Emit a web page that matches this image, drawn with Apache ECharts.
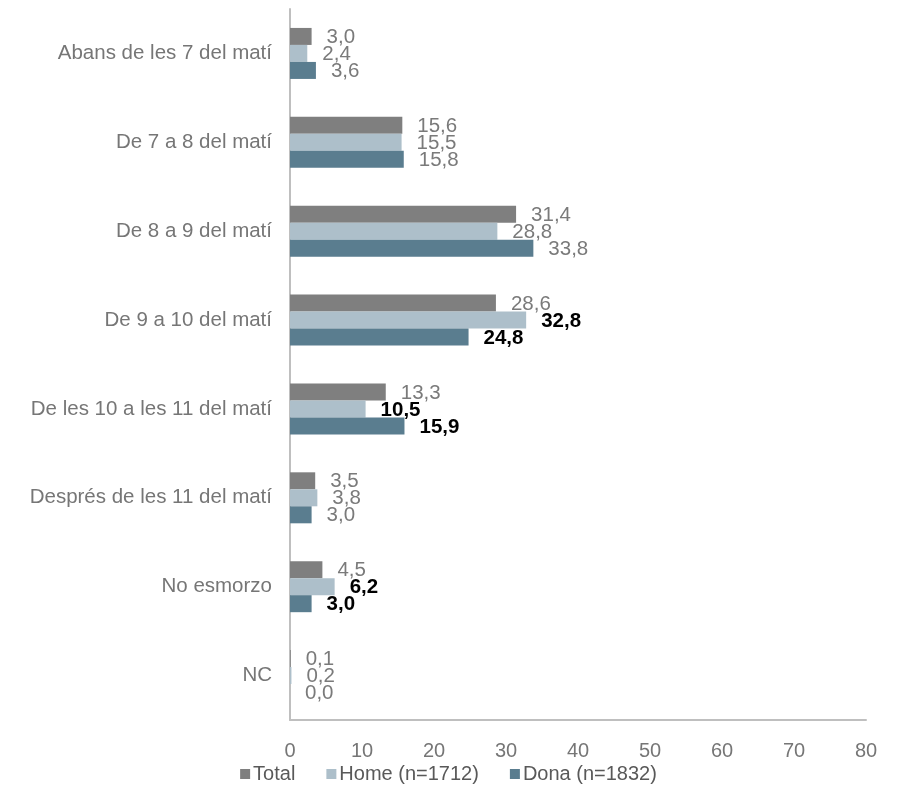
<!DOCTYPE html>
<html><head><meta charset="utf-8">
<script src="https://cdn.jsdelivr.net/npm/echarts@6/dist/echarts.min.js"></script>
<style>html,body{margin:0;padding:0;background:#fff}#c{width:897px;height:812px}</style>
</head><body><div id="c"></div>
<script>
const categories = ["Abans de les 7 del matí","De 7 a 8 del matí","De 8 a 9 del matí","De 9 a 10 del matí","De les 10 a les 11 del matí","Després de les 11 del matí","No esmorzo","NC"];
const seriesNames = ["Total","Home (n=1712)","Dona (n=1832)"];
const totalValues = [3.0,15.6,31.4,28.6,13.3,3.5,4.5,0.1];
const homeValues  = [2.4,15.5,28.8,32.8,10.5,3.8,6.2,0.2];
const donaValues  = [3.6,15.8,33.8,24.8,15.9,3.0,3.0,0.0];
// significant (bold) flags
const homeBold = [false,false,false,true,true,false,true,false];
const donaBold = [false,false,false,true,true,false,true,false];
const totalBold = [false,false,false,false,false,false,false,false];
const colors = ["#7f7f7f","#adbfca","#5a7d8f"];

const FONT = 'Liberation Sans, Arial, sans-serif';
const fmt = v => v.toFixed(1).replace('.', ',');
function mk(vals, bold){
  return vals.map((v,i)=>({value:v, label: bold[i] ? {color:'#000', fontWeight:'bold'} : {}}));
}
const chart = echarts.init(document.getElementById('c'));
const mkSeries = (name, vals, bold, color)=>({
  name, type:'bar', data: mk(vals,bold), barWidth:17, barGap:'0%',
  itemStyle:{color},
  label:{show:true, position:'right', distance:15, color:'#7a7a7a', fontSize:20.5,
    fontFamily:FONT, formatter:p=>fmt(p.value), offset:[0,1]}
});
chart.setOption({
  animation:false,
  grid:{left:290, right:31, top:9, bottom:92, containLabel:false},
  legend:{bottom:23, left:'center', itemWidth:10, itemHeight:10, itemGap:31, icon:'rect',
    textStyle:{fontSize:20, color:'#595959', fontFamily:FONT, padding:[0,0,0,-2]}},
  xAxis:{type:'value', min:0, max:80, interval:10,
    axisLine:{show:true, lineStyle:{color:'#bfbfbf', width:2}},
    axisTick:{show:false}, splitLine:{show:false},
    axisLabel:{fontSize:20, color:'#767676', margin:21, fontFamily:FONT}},
  yAxis:{type:'category', data:categories, inverse:true,
    axisLine:{show:true, lineStyle:{color:'#bfbfbf', width:2}},
    axisTick:{show:false},
    axisLabel:{fontSize:20.5, color:'#767676', margin:18, fontFamily:FONT}},
  series:[
    mkSeries(seriesNames[0], totalValues, totalBold, colors[0]),
    mkSeries(seriesNames[1], homeValues, homeBold, colors[1]),
    mkSeries(seriesNames[2], donaValues, donaBold, colors[2])
  ]
});
</script></body></html>
